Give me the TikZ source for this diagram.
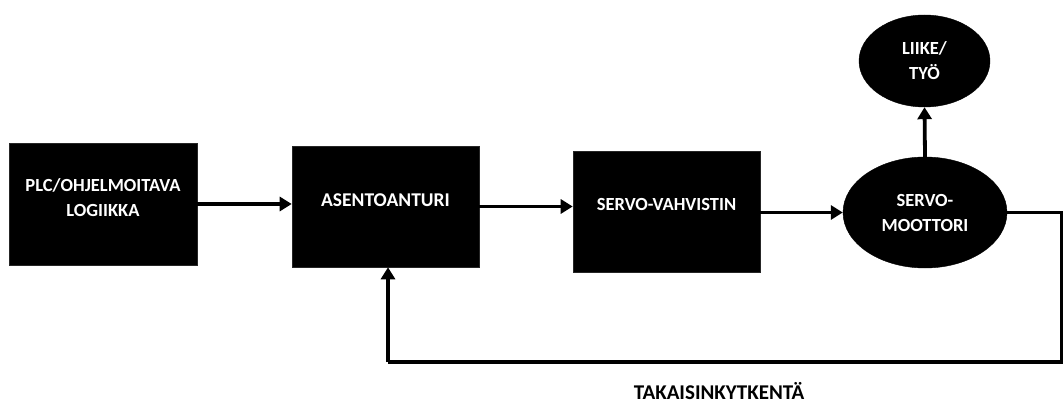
\documentclass[tikz,border=0pt]{standalone}
\usepackage{fontspec}
\setmainfont{Carlito}
\usetikzlibrary{arrows.meta,shapes.geometric}
\begin{document}
\begin{tikzpicture}[x=1pt,y=-1pt,
  blk/.style={fill=black,draw=black!85,line width=0.6pt,inner sep=0pt},
  ell/.style={ellipse,fill=black,draw=black,inner sep=0pt,text=white,font=\bfseries\fontsize{18.5}{25}\selectfont,align=center},
  txt/.style={text=white,font=\bfseries\fontsize{18.5}{25}\selectfont,align=center,inner sep=0pt},
  conn/.style={line width=3.8pt,-{Triangle[length=12pt,width=14pt]}},
  line/.style={line width=3.8pt}]
\useasboundingbox (0,0) rectangle (1064,403);
\node[blk,minimum width=188pt,minimum height=122pt] (plc) at (103,204) {};
\node[txt] (plct) at (103,198) {PLC/OHJELMOITAVA\\LOGIIKKA};
\node[blk,minimum width=187pt,minimum height=121pt] (ase) at (385.5,206.5) {};
\node[txt,font=\bfseries\fontsize{19.5}{25}\selectfont] (aset) at (385.5,200) {ASENTOANTURI};
\node[blk,minimum width=187pt,minimum height=121pt] (vah) at (666.5,211.5) {};
\node[txt] (vaht) at (666.5,204.5) {SERVO-VAHVISTIN};
\node[ell,minimum width=164pt,minimum height=111pt] (mot) at (925,212.5) {SERVO-\\MOOTTORI};
\node[ell,minimum width=131pt,minimum height=92pt] (liike) at (924.5,61) {LIIKE/\\TYÖ};
\draw[conn] (plc.east) -- (plc.east -| ase.west);
\draw[conn] (ase.east) -- (ase.east -| vah.west);
\draw[conn] (vah.east |- mot.west) -- (mot.west);
\draw[conn] (mot.north) -- (liike.south);
\coordinate (fr) at (1061.5,362);
\coordinate (fl) at (388,362);
\draw[line] (mot.east) -| (fr) -- (fl);
\draw[conn] (fl) -- (fl |- ase.south);
\node[font=\bfseries\fontsize{21}{25}\selectfont,inner sep=0pt,text depth=0pt,anchor=base] (tak) at (719,399.5) {TAKAISINKYTKENTÄ};
\end{tikzpicture}
\end{document}
